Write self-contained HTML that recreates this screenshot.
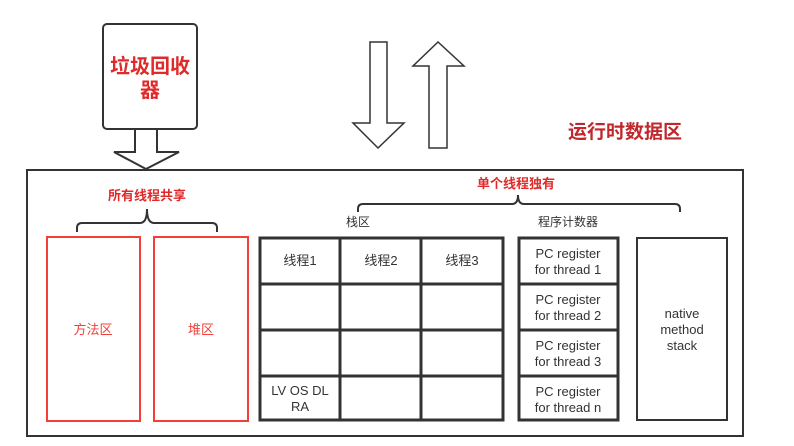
<!DOCTYPE html>
<html><head><meta charset="utf-8"><style>
html,body{margin:0;padding:0;background:#fff;width:794px;height:446px;overflow:hidden}
text{font-family:"Liberation Sans","Noto Sans CJK SC",sans-serif}
</style></head><body>
<svg width="794" height="446" viewBox="0 0 794 446" xmlns="http://www.w3.org/2000/svg">
<g fill="#fff" stroke="#333" stroke-width="2" stroke-linejoin="miter">
<rect x="103" y="24" width="94" height="105" rx="4"/>
<polygon points="135,129 157,129 157,152 179,152 146,169 114,152 135,152"/>
<polygon points="370,42 387,42 387,123 404,123 378,148 353,123 370,123" stroke-width="1.5"/>
<polygon points="429,148 447,148 447,66 464,66 438,42 413,66 429,66" stroke-width="1.5"/>
<rect x="27" y="170" width="716" height="266"/>
</g>
<text x="150" y="73" text-anchor="middle" font-size="20" font-weight="bold" fill="#e02a2a">垃圾回收</text>
<text x="150" y="97" text-anchor="middle" font-size="20" font-weight="bold" fill="#e02a2a">器</text>
<text x="625" y="138" text-anchor="middle" font-size="19" font-weight="bold" fill="#c0282d">运行时数据区</text>
<text x="147" y="200" text-anchor="middle" font-size="13" font-weight="bold" fill="#e02a2a">所有线程共享</text>
<text x="516" y="188" text-anchor="middle" font-size="13" font-weight="bold" fill="#e02a2a">单个线程独有</text>
<g fill="none" stroke="#333" stroke-width="2">
<path d="M77,232 L77,228 Q77,223 82,223 L140,223 Q147,223 147,209 Q147,223 154,223 L212,223 Q217,223 217,228 L217,232"/>
<path d="M358,212 L358,209 Q358,204 363,204 L512,204 Q518,204 518,195 Q518,204 524,204 L675,204 Q680,204 680,209 L680,212"/>
</g>
<g fill="none" stroke="#f04038" stroke-width="2">
<rect x="47" y="237" width="93" height="184"/>
<rect x="154" y="237" width="94" height="184"/>
</g>
<text x="93" y="334" text-anchor="middle" font-size="13" fill="#f04038">方法区</text>
<text x="201" y="334" text-anchor="middle" font-size="13" fill="#f04038">堆区</text>
<text x="358" y="226" text-anchor="middle" font-size="12" fill="#333">栈区</text>
<text x="568" y="226" text-anchor="middle" font-size="12" fill="#333">程序计数器</text>
<g fill="none" stroke="#333" stroke-width="3">
<rect x="260" y="238" width="243" height="182"/>
<line x1="340" y1="238" x2="340" y2="420"/>
<line x1="421" y1="238" x2="421" y2="420"/>
<line x1="260" y1="284" x2="503" y2="284"/>
<line x1="260" y1="330" x2="503" y2="330"/>
<line x1="260" y1="376" x2="503" y2="376"/>
<rect x="519" y="238" width="99" height="182"/>
<line x1="519" y1="284" x2="618" y2="284"/>
<line x1="519" y1="330" x2="618" y2="330"/>
<line x1="519" y1="376" x2="618" y2="376"/>
</g>
<rect x="637" y="238" width="90" height="182" fill="none" stroke="#333" stroke-width="2"/>
<g font-size="13" fill="#333" text-anchor="middle">
<text x="300" y="265">线程1</text>
<text x="381" y="265">线程2</text>
<text x="462" y="265">线程3</text>
<text x="300" y="395">LV OS DL</text>
<text x="300" y="411">RA</text>
<text x="568" y="258">PC register</text>
<text x="568" y="274">for thread 1</text>
<text x="568" y="304">PC register</text>
<text x="568" y="320">for thread 2</text>
<text x="568" y="350">PC register</text>
<text x="568" y="366">for thread 3</text>
<text x="568" y="396">PC register</text>
<text x="568" y="412">for thread n</text>
<text x="682" y="318">native</text>
<text x="682" y="334">method</text>
<text x="682" y="350">stack</text>
</g>
</svg>
</body></html>
